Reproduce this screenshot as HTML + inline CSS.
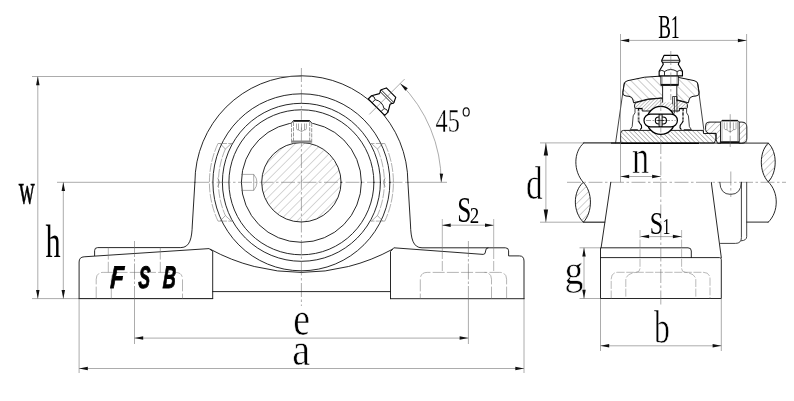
<!DOCTYPE html>
<html><head><meta charset="utf-8"><title>Pillow block bearing drawing</title>
<style>
html,body{margin:0;padding:0;background:#fff;}
body{width:794px;height:401px;overflow:hidden;font-family:"Liberation Serif",serif;}
svg{display:block;will-change:transform;}
</style></head><body>
<svg width="794" height="401" viewBox="0 0 794 401">
<rect width="794" height="401" fill="#fff"/>
<defs>
<pattern id="h45" width="6.2" height="6.2" patternUnits="userSpaceOnUse" patternTransform="rotate(45)"><line x1="0" y1="0" x2="0" y2="6.2" stroke="#777" stroke-width="0.6"/></pattern>
<pattern id="hs1" width="2.5" height="2.5" patternUnits="userSpaceOnUse" patternTransform="rotate(45)"><line x1="0" y1="0" x2="0" y2="2.6" stroke="#333" stroke-width="0.55"/></pattern>
<pattern id="hs2" width="3.2" height="3.2" patternUnits="userSpaceOnUse" patternTransform="rotate(-45)"><line x1="0" y1="0" x2="0" y2="3.2" stroke="#222" stroke-width="0.6"/></pattern>
<pattern id="hs3" width="4.2" height="4.2" patternUnits="userSpaceOnUse" patternTransform="rotate(45)"><line x1="0" y1="0" x2="0" y2="4.2" stroke="#444" stroke-width="0.55"/></pattern>
<pattern id="hs3b" width="5.8" height="5.8" patternUnits="userSpaceOnUse" patternTransform="rotate(-45)"><line x1="0" y1="0" x2="0" y2="5.8" stroke="#444" stroke-width="0.55"/></pattern>
<pattern id="hs4" width="5.2" height="5.2" patternUnits="userSpaceOnUse" patternTransform="rotate(45)"><line x1="0" y1="0" x2="0" y2="5.2" stroke="#555" stroke-width="0.55"/></pattern>
</defs>
<circle cx="301.4" cy="182.3" r="39.7" fill="url(#h45)" stroke="none" />
<line x1="57" y1="182.3" x2="195" y2="182.3" stroke="#666" stroke-width="0.55" fill="none" />
<line x1="195" y1="182.3" x2="408" y2="182.3" stroke="#666" stroke-width="0.55" fill="none" stroke-dasharray="14 2.5 2.5 2.5" />
<line x1="408" y1="182.3" x2="447" y2="182.3" stroke="#666" stroke-width="0.55" fill="none" />
<line x1="301.4" y1="68" x2="301.4" y2="306" stroke="#666" stroke-width="0.55" fill="none" stroke-dasharray="14 2.5 2.5 2.5" />
<circle cx="301.4" cy="182.3" r="88.5" stroke="#151515" stroke-width="0.92" fill="none" stroke-linecap="round" stroke-linejoin="round" />
<circle cx="301.4" cy="182.3" r="79" stroke="#151515" stroke-width="0.92" fill="none" stroke-linecap="round" stroke-linejoin="round" />
<circle cx="301.4" cy="182.3" r="72.5" stroke="#151515" stroke-width="0.92" fill="none" stroke-linecap="round" stroke-linejoin="round" />
<circle cx="301.4" cy="182.3" r="60" stroke="#151515" stroke-width="0.92" fill="none" stroke-linecap="round" stroke-linejoin="round" />
<circle cx="301.4" cy="182.3" r="39.7" stroke="#151515" stroke-width="0.92" fill="none" stroke-linecap="round" stroke-linejoin="round" />
<path d="M 194.89999999999998 182.3 A 106.5 106.5 0 0 1 407.9 182.3" stroke="#151515" stroke-width="0.92" fill="none" stroke-linecap="round" stroke-linejoin="round" />
<path d="M 194.89999999999998 182.3 L 192.3 225 C 191.9 238 190 247.6 180.8 247.6 L 97.6 247.6 Q 94.6 247.6 94.6 250.6 L 94.6 255.6" stroke="#151515" stroke-width="0.92" fill="none" stroke-linecap="round" stroke-linejoin="round" />
<path d="M 407.9 182.3 L 410.5 225 C 410.9 238 412.8 247.8 422 247.8 L 505.4 247.8 Q 508.6 247.8 508.6 250.8 L 508.6 255.9 L 519.4 255.9 Q 524.0 255.9 524.0 261 L 524.0 298.7" stroke="#151515" stroke-width="0.92" fill="none" stroke-linecap="round" stroke-linejoin="round" />
<path d="M 79.1 298.6 L 79.1 262 Q 79.1 257.1 84.1 256.8 L 209 248.6 L 212.7 251.2 L 212.7 298.6" stroke="#151515" stroke-width="0.92" fill="none" stroke-linecap="round" stroke-linejoin="round" />
<line x1="32" y1="298.6" x2="212.7" y2="298.6" stroke="#666" stroke-width="0.55" fill="none" />
<line x1="79.1" y1="298.6" x2="212.7" y2="298.6" stroke="#151515" stroke-width="0.92" fill="none" stroke-linecap="round" stroke-linejoin="round" />
<line x1="390.5" y1="298.7" x2="524.0" y2="298.7" stroke="#151515" stroke-width="0.92" fill="none" stroke-linecap="round" stroke-linejoin="round" />
<path d="M 212.7 291.6 L 390.5 291.6" stroke="#151515" stroke-width="0.92" fill="none" stroke-linecap="round" stroke-linejoin="round" />
<path d="M 390.5 298.7 L 390.5 251.5 L 393.8 247.8 L 483.2 254.4 Q 485.6 254.4 485.6 251 Q 485.6 247.9 488 247.8" stroke="#151515" stroke-width="0.92" fill="none" stroke-linecap="round" stroke-linejoin="round" />
<path d="M 210.4 249.3 A 190 190 0 0 0 392.4 249.3" stroke="#151515" stroke-width="0.92" fill="none" stroke-linecap="round" stroke-linejoin="round" />
<line x1="108.3" y1="247.6" x2="108.3" y2="272.4" stroke="#777" stroke-width="0.55" fill="none" stroke-dasharray="12 2.2" />
<line x1="160.3" y1="247.6" x2="160.3" y2="272.4" stroke="#777" stroke-width="0.55" fill="none" stroke-dasharray="12 2.2" />
<path d="M 96.2 298.6 L 96.2 279.4 Q 96.2 272.4 103.2 272.4 L 175.5 272.4 Q 182.5 272.4 182.5 279.4 L 182.5 298.6" stroke="#777" stroke-width="0.55" fill="none" stroke-dasharray="12 2.2" />
<path d="M 111.3 298.6 L 111.3 279.4 Q 111.3 272.4 118.3 272.4" stroke="#777" stroke-width="0.55" fill="none" stroke-dasharray="12 2.2" />
<path d="M 506.59999999999997 298.6 L 506.59999999999997 279.4 Q 506.59999999999997 272.4 499.59999999999997 272.4 L 427.29999999999995 272.4 Q 420.29999999999995 272.4 420.29999999999995 279.4 L 420.29999999999995 298.6" stroke="#777" stroke-width="0.55" fill="none" stroke-dasharray="12 2.2" />
<path d="M 491.49999999999994 298.6 L 491.49999999999994 279.4 Q 491.49999999999994 272.4 484.49999999999994 272.4" stroke="#777" stroke-width="0.55" fill="none" stroke-dasharray="12 2.2" />
<line x1="134.5" y1="241" x2="134.5" y2="300" stroke="#666" stroke-width="0.55" fill="none" stroke-dasharray="16 2 2.5 2" />
<line x1="134.5" y1="300" x2="134.5" y2="344" stroke="#666" stroke-width="0.55" fill="none" />
<line x1="468.4" y1="241" x2="468.4" y2="300" stroke="#666" stroke-width="0.55" fill="none" stroke-dasharray="16 2 2.5 2" />
<line x1="468.4" y1="300" x2="468.4" y2="344" stroke="#666" stroke-width="0.55" fill="none" />
<g transform="translate(376.49,107.21) rotate(45.00)">
<path d="M -11.65 0 L -11.65 -4.6 L -7.5 -11.7 L -8.2 -13.6 L -9.0 -14.4 L -9.0 -15.6 L -6.65 -20.6 L 6.65 -20.6 L 9 -15.6 L 9 -14.4 L 8.2 -13.6 L 7.5 -11.7 L 11.65 -4.6 L 11.65 0 Z" fill="#fff" stroke="#000" stroke-width="1.15" stroke-linejoin="round"/>
<path d="M -8.2 -13.6 L 8.2 -13.6 M -9 -15.6 L 9 -15.6" stroke="#111" stroke-width="0.9" fill="none"/>
<path d="M -6.3 0 L -6.3 -4.4 M 6.3 0 L 6.3 -4.4 M -11.65 -4.6 Q -9 -6.6 -6.3 -4.4 Q 0 -8.4 6.3 -4.4 Q 9 -6.6 11.65 -4.6" stroke="#111" stroke-width="0.9" fill="none"/>
</g>
<line x1="369.2822509939085" y1="114.41774900609146" x2="404.63759005323595" y2="79.06240994676408" stroke="#666" stroke-width="0.55" fill="none" />
<rect x="290.8" y="119.8" width="21.6" height="5.6" fill="#fff"/>
<path d="M 293.5 120.9 L 309.6 120.9" stroke="#111" stroke-width="1.8" fill="none" />
<path d="M 291.5 123 L 293.5 120.6 M 311.7 123 L 309.6 120.6" stroke="#151515" stroke-width="0.92" fill="none" stroke-linecap="round" stroke-linejoin="round" />
<path d="M 291.5 123 L 291.5 142.9 M 311.7 123 L 311.7 142.9 M 293.5 122 L 293.5 142.9 M 309.7 122 L 309.7 142.9" stroke="#555" stroke-width="0.6" fill="none" stroke-dasharray="4 1.2" />
<path d="M 291.5 141.6 L 311.7 141.6" stroke="#888" stroke-width="2.2" fill="none" />
<path d="M 296.5 123.5 L 296.5 128.5 Q 296.5 130 298.5 130 L 298.5 123.5 M 306.4 123.5 L 306.4 128.5 Q 306.4 130 304.5 130 L 304.5 123.5 M 298.5 130 Q 301.5 133 304.5 130 M 301.5 123.5 L 301.5 131.5" stroke="#666" stroke-width="0.55" fill="none" />
<path d="M 241.2 174.4 L 253.7 174.4 Q 257 178 257 182.3 Q 257 186.6 253.7 190.4 L 241.2 190.4 M 253.7 174.4 L 253.7 190.4" stroke="#666" stroke-width="0.55" fill="none" />
<path d="M 217.98 143.50 A 92 92 0 0 0 217.98 221.10" stroke="#707070" stroke-width="0.55" fill="none" stroke-dasharray="9 1.3" />
<path d="M 225.37 149.00 A 83 83 0 0 0 225.37 215.60" stroke="#707070" stroke-width="0.55" fill="none" stroke-dasharray="9 1.3" />
<path d="M 217.98 143.50 L 232.0 143.50 M 217.98 221.10 L 232.0 221.10" stroke="#707070" stroke-width="0.55" fill="none" stroke-dasharray="9 1.3" />
<path d="M 220.0 143.50 L 225.37 149.00 L 231.4 143.50 M 220.0 221.10 L 225.37 215.60 L 231.4 221.10" stroke="#666" stroke-width="0.55" fill="none" />
<path d="M 217.6 177.8 L 219.6 182.3 L 217.6 186.8" stroke="#666" stroke-width="0.55" fill="none" />
<path d="M 384.82 143.50 A 92 92 0 0 1 384.82 221.10" stroke="#707070" stroke-width="0.55" fill="none" stroke-dasharray="9 1.3" />
<path d="M 377.43 149.00 A 83 83 0 0 1 377.43 215.60" stroke="#707070" stroke-width="0.55" fill="none" stroke-dasharray="9 1.3" />
<path d="M 384.82 143.50 L 370.79999999999995 143.50 M 384.82 221.10 L 370.79999999999995 221.10" stroke="#707070" stroke-width="0.55" fill="none" stroke-dasharray="9 1.3" />
<path d="M 382.79999999999995 143.50 L 377.43 149.00 L 371.4 143.50 M 382.79999999999995 221.10 L 377.43 215.60 L 371.4 221.10" stroke="#666" stroke-width="0.55" fill="none" />
<path d="M 385.19999999999993 177.8 L 383.19999999999993 182.3 L 385.19999999999993 186.8" stroke="#666" stroke-width="0.55" fill="none" />
<text transform="translate(109.92,287.90) skewX(-3.15) scale(0.5414,0.7849)" font-family="Liberation Sans" font-weight="bold" font-style="italic" font-size="40" fill="#000" stroke="#000" stroke-width="1.2">F</text>
<text transform="translate(137.89,287.80) skewX(-3.15) scale(0.4379,0.7768)" font-family="Liberation Sans" font-weight="bold" font-style="italic" font-size="40" fill="#000" stroke="#000" stroke-width="1.2">S</text>
<text transform="translate(162.39,287.90) skewX(-3.15) scale(0.4462,0.7849)" font-family="Liberation Sans" font-weight="bold" font-style="italic" font-size="40" fill="#000" stroke="#000" stroke-width="1.2">B</text>
<line x1="37.8" y1="76.5" x2="37.8" y2="298.6" stroke="#666" stroke-width="0.55" fill="none" />
<polygon points="37.80,76.50 39.55,85.20 36.05,85.20" fill="#111"/>
<polygon points="37.80,298.60 36.05,289.90 39.55,289.90" fill="#111"/>
<line x1="32" y1="76.5" x2="301.4" y2="76.5" stroke="#666" stroke-width="0.55" fill="none" />
<line x1="63.3" y1="182.3" x2="63.3" y2="298.6" stroke="#666" stroke-width="0.55" fill="none" />
<polygon points="63.30,182.30 65.05,191.00 61.55,191.00" fill="#111"/>
<polygon points="63.30,298.60 61.55,289.90 65.05,289.90" fill="#111"/>
<text transform="translate(18.73,203.52) scale(0.5546,1.1040)" font-family="Liberation Serif" font-size="40" fill="#000" stroke="#000" stroke-width="0.5" vector-effect="non-scaling-stroke" >w</text>
<text transform="translate(45.51,257.00) scale(0.7546,1.1854)" font-family="Liberation Serif" font-size="40" fill="#000"  >h</text>
<line x1="134.5" y1="338.1" x2="468.3" y2="338.1" stroke="#666" stroke-width="0.55" fill="none" />
<polygon points="134.50,338.10 143.20,336.35 143.20,339.85" fill="#111"/>
<polygon points="468.30,338.10 459.60,339.85 459.60,336.35" fill="#111"/>
<line x1="79.1" y1="298.6" x2="79.1" y2="373" stroke="#666" stroke-width="0.55" fill="none" />
<line x1="524.0" y1="298.7" x2="524.0" y2="373" stroke="#666" stroke-width="0.55" fill="none" />
<line x1="79.1" y1="368.5" x2="524.0" y2="368.5" stroke="#666" stroke-width="0.55" fill="none" />
<polygon points="79.10,368.50 87.80,366.75 87.80,370.25" fill="#111"/>
<polygon points="524.00,368.50 515.30,370.25 515.30,366.75" fill="#111"/>
<text transform="translate(293.25,335.11) scale(0.9423,1.1981)" font-family="Liberation Serif" font-size="40" fill="#000" stroke="#fff" stroke-width="0.55" vector-effect="non-scaling-stroke" >e</text>
<text transform="translate(292.31,365.31) scale(1.0094,1.1821)" font-family="Liberation Serif" font-size="40" fill="#000" stroke="#fff" stroke-width="0.55" vector-effect="non-scaling-stroke" >a</text>
<line x1="442" y1="225.2" x2="493.7" y2="225.2" stroke="#666" stroke-width="0.55" fill="none" />
<polygon points="442.00,225.20 450.70,223.45 450.70,226.95" fill="#111"/>
<polygon points="493.70,225.20 485.00,226.95 485.00,223.45" fill="#111"/>
<line x1="442.3" y1="219" x2="442.3" y2="272.4" stroke="#777" stroke-width="0.55" fill="none" stroke-dasharray="40 2 10 2.2" />
<line x1="493.7" y1="219" x2="493.7" y2="272.4" stroke="#777" stroke-width="0.55" fill="none" stroke-dasharray="40 2 10 2.2" />
<text transform="translate(457.21,222.36) scale(0.6320,0.8707)" font-family="Liberation Serif" font-size="40" fill="#000"  >S</text>
<text transform="translate(469.77,222.60) scale(0.4740,0.5739)" font-family="Liberation Serif" font-size="40" fill="#000"  >2</text>
<path d="M 400.25 83.45 A 139.8 139.8 0 0 1 441.2 182.3" stroke="#666" stroke-width="0.55" fill="none" />
<polygon points="441.20,182.30 439.68,173.56 443.18,173.65" fill="#111"/>
<polygon points="400.25,83.45 407.77,88.17 405.36,90.70" fill="#111"/>
<text transform="translate(435.57,131.61) scale(0.6081,0.8683)" font-family="Liberation Serif" font-size="40" fill="#000" stroke="#fff" stroke-width="0.3" vector-effect="non-scaling-stroke" >45</text>
<ellipse cx="466.2" cy="111.9" rx="3.0" ry="4.1" stroke="#111" stroke-width="1.2" fill="none"/>
<line x1="540" y1="142.9" x2="620" y2="142.9" stroke="#666" stroke-width="0.55" fill="none" />
<line x1="583.8" y1="142.9" x2="620.5" y2="142.9" stroke="#151515" stroke-width="0.92" fill="none" stroke-linecap="round" stroke-linejoin="round" />
<line x1="700" y1="143.1" x2="768.3" y2="143.1" stroke="#151515" stroke-width="0.92" fill="none" stroke-linecap="round" stroke-linejoin="round" />
<line x1="540" y1="222.2" x2="604.5" y2="222.2" stroke="#666" stroke-width="0.55" fill="none" />
<line x1="583.4" y1="222.2" x2="604.8" y2="222.2" stroke="#151515" stroke-width="0.92" fill="none" stroke-linecap="round" stroke-linejoin="round" />
<line x1="746.7" y1="222.1" x2="768.3" y2="222.1" stroke="#151515" stroke-width="0.92" fill="none" stroke-linecap="round" stroke-linejoin="round" />
<path d="M 583.8 142.9 C 573.2 152 573.2 171 583.2 182.3" stroke="#151515" stroke-width="0.92" fill="none" stroke-linecap="round" stroke-linejoin="round" />
<path d="M 583.2 182.3 C 572.6 192 572.8 212 583.4 222.2 C 592.8 212 592.8 192 583.2 182.3 Z" stroke="#151515" stroke-width="0.95" fill="url(#hs4)" />
<path d="M 768.3 143.1 C 759 152 759 172 768.3 181.9 C 777.5 172 777.5 152 768.3 143.1 Z" stroke="#151515" stroke-width="0.95" fill="url(#hs4)" />
<path d="M 768.3 181.9 C 779 192 779 212 768.3 222.1" stroke="#151515" stroke-width="0.92" fill="none" stroke-linecap="round" stroke-linejoin="round" />
<line x1="567" y1="182.3" x2="786" y2="182.3" stroke="#666" stroke-width="0.55" fill="none" stroke-dasharray="14 2.5 2.5 2.5" />
<line x1="610.8" y1="182.3" x2="601.1" y2="247.8" stroke="#151515" stroke-width="0.92" fill="none" stroke-linecap="round" stroke-linejoin="round" />
<line x1="711.3" y1="182.3" x2="721.3" y2="257.6" stroke="#151515" stroke-width="0.92" fill="none" stroke-linecap="round" stroke-linejoin="round" />
<path d="M 741.4 182.3 L 741.4 237.5 Q 741.4 243.4 735.5 243.4 L 720.5 243.4" stroke="#222" stroke-width="0.85" fill="none" stroke-linecap="round" stroke-linejoin="round" />
<path d="M 746.7 182.3 L 746.7 236.5 Q 746.7 240.5 741.4 240.8" stroke="#222" stroke-width="0.85" fill="none" stroke-linecap="round" stroke-linejoin="round" />
<path d="M 719.8 182.3 Q 720.2 194.4 730.6 194.4 Q 741 194.4 741.4 182.3" stroke="#222" stroke-width="0.85" fill="none" stroke-linecap="round" stroke-linejoin="round" />
<line x1="730.8" y1="171.5" x2="730.8" y2="197" stroke="#666" stroke-width="0.55" fill="none" stroke-dasharray="14 2.5 2.5 2.5" />
<path d="M 600.5 298.5 L 600.5 247.8 L 688 247.8 Q 691.3 247.8 691.3 251 L 691.3 257.6" stroke="#151515" stroke-width="0.92" fill="none" stroke-linecap="round" stroke-linejoin="round" />
<path d="M 600.5 257.6 L 719.6 257.6 Q 721.3 257.6 721.3 259.5 L 721.3 298.5 L 600.5 298.5" stroke="#151515" stroke-width="0.92" fill="none" stroke-linecap="round" stroke-linejoin="round" />
<path d="M 640 230 L 640 268.5 Q 640 272 636 272.4 Q 626 273.5 625.8 280 L 625.8 298.5" stroke="#808080" stroke-width="0.55" fill="none" stroke-dasharray="8 1.6" />
<path d="M 681.6 230 L 681.6 268.5 Q 681.6 272 685.6 272.4 Q 695.6 273.5 695.8 280 L 695.8 298.5" stroke="#808080" stroke-width="0.55" fill="none" stroke-dasharray="8 1.6" />
<path d="M 611.2 298.5 L 611.2 279 Q 611.2 272.3 618 272.3 L 703.2 272.3 Q 710 272.3 710 279 L 710 298.5" stroke="#808080" stroke-width="0.55" fill="none" stroke-dasharray="8 1.6" />
<line x1="624.2" y1="83" x2="615.6" y2="142.9" stroke="#222" stroke-width="0.85" fill="none" stroke-linecap="round" stroke-linejoin="round" />
<line x1="697.6" y1="83" x2="703.8" y2="129.5" stroke="#222" stroke-width="0.85" fill="none" stroke-linecap="round" stroke-linejoin="round" />
<path d="M 624.2 84.2 Q 624.4 81.2 628 80.6 Q 661 71.6 694 80.6 Q 697.6 81.2 697.8 84.2 L 699.2 92.5 Q 699.6 95.6 696 96 L 693 96.3 Q 689.5 96.8 689 100 L 688.4 102.8 Q 661 93.2 633.6 102.8 L 633 100 Q 632.5 96.8 629 96.3 L 626 96 Q 622.4 95.6 622.8 92.5 Z" stroke="#111" stroke-width="1.0" stroke-linejoin="round" fill="url(#hs3b)" />
<path d="M 634.6 104.8 Q 634.6 103 636.4 102.5 Q 661 94.0 685.6 102.5 Q 687.4 103 687.4 104.8 L 687.4 107.4 Q 687.4 108.4 686.2 108.4 L 679.4 108.4 L 679.4 111 L 642.2 111 L 642.2 108.4 L 635.8 108.4 Q 634.6 108.4 634.6 107.4 Z" stroke="#111" stroke-width="0.95" stroke-linejoin="round" fill="url(#hs1)" />
<path d="M 620.6 143 L 620.6 133.4 Q 620.6 130.4 623.6 130.4 L 703.5 130.4 L 703.5 133.5 L 716 133.5 L 716 139 L 714.2 143 Z" stroke="#111" stroke-width="0.95" stroke-linejoin="round" fill="url(#hs2)" />
<line x1="611" y1="143.1" x2="620.5" y2="143.1" stroke="#111" stroke-width="1.1" />
<line x1="620.5" y1="143.2" x2="699" y2="143.2" stroke="#000" stroke-width="1.4" />
<path d="M 635.0 108.4 L 635.0 112.8 L 633.2 115.8 L 632.2 126.6 L 630.2 129.6 L 637.8 129.6" stroke="#222" stroke-width="0.85" fill="none" stroke-linejoin="round" />
<path d="M 642.2 108.6 L 638.4 108.6 L 638.4 110.6" stroke="#000" stroke-width="1.1" fill="none" stroke-linejoin="round" />
<path d="M 638.6 110.4 L 638.6 121.6" stroke="#111" stroke-width="1.8" fill="none" stroke-dasharray="0.7 0.6" />
<path d="M 638.6 121.4 L 639.8 123.2 L 641.4 125.4 L 641.6 127.8 L 640.2 129.6" stroke="#000" stroke-width="1.1" fill="none" stroke-linejoin="round" />
<path d="M 686.5999999999999 108.4 L 686.5999999999999 112.8 L 688.3999999999999 115.8 L 689.3999999999999 126.6 L 691.3999999999999 129.6 L 683.8 129.6" stroke="#222" stroke-width="0.85" fill="none" stroke-linejoin="round" />
<path d="M 679.3999999999999 108.6 L 683.1999999999999 108.6 L 683.1999999999999 110.6" stroke="#000" stroke-width="1.1" fill="none" stroke-linejoin="round" />
<path d="M 682.9999999999999 110.4 L 682.9999999999999 121.6" stroke="#111" stroke-width="1.8" fill="none" stroke-dasharray="0.7 0.6" />
<path d="M 682.9999999999999 121.4 L 681.8 123.2 L 680.1999999999999 125.4 L 679.9999999999999 127.8 L 681.3999999999999 129.6" stroke="#000" stroke-width="1.1" fill="none" stroke-linejoin="round" />
<circle cx="660.8" cy="120.4" r="14.0" stroke="#000" stroke-width="1.35" fill="#fff" />
<rect x="644" y="114.2" width="33.4" height="12.7" rx="6.3" ry="6.3" stroke="#000" stroke-width="1.25" fill="#fff"/>
<line x1="646" y1="120.5" x2="675.6" y2="120.5" stroke="#555" stroke-width="0.6" stroke-dasharray="5 1.5 1.5 1.5" />
<rect x="655.3" y="117" width="11.2" height="7" rx="3.5" ry="3.5" stroke="#000" stroke-width="1.1" fill="none"/>
<rect x="659.1" y="114.6" width="3" height="11.9" stroke="#000" stroke-width="0.95" fill="#fff"/>
<line x1="657.5" y1="120.5" x2="664.5" y2="120.5" stroke="#111" stroke-width="0.8" />
<line x1="660.8" y1="97" x2="660.8" y2="306" stroke="#666" stroke-width="0.55" fill="none" stroke-dasharray="14 2.5 2.5 2.5" />
<rect x="661" y="76.2" width="17.2" height="9.4" fill="#fff" stroke="none"/>
<rect x="662.6" y="85.4" width="14.2" height="17" fill="#fff" stroke="none"/>
<path d="M 660.9 76.2 L 660.9 85.5 L 678.3 85.5 L 678.3 76.2" stroke="#151515" stroke-width="0.92" fill="none" stroke-linecap="round" stroke-linejoin="round" />
<path d="M 662.2 76.2 L 662.2 85.5 M 677 76.2 L 677 85.5" stroke="#666" stroke-width="0.55" fill="none" />
<path d="M 660.9 84.6 L 678.3 84.6" stroke="#111" stroke-width="1.4" fill="none" />
<path d="M 662.6 85.5 L 662.6 102.2 M 676.8 85.5 L 676.8 101" stroke="#151515" stroke-width="0.92" fill="none" stroke-linecap="round" stroke-linejoin="round" />
<path d="M 672.6 104 L 672.6 96.5 L 677 96.5 L 677 112 M 674.4 97.5 L 674.4 113" stroke="#222" stroke-width="0.85" fill="none" stroke-linecap="round" stroke-linejoin="round" />
<g transform="translate(670.80,75.90) rotate(0.00)">
<path d="M -11.65 0 L -11.65 -4.6 L -7.5 -11.7 L -8.2 -13.6 L -9.0 -14.4 L -9.0 -15.6 L -6.65 -20.6 L 6.65 -20.6 L 9 -15.6 L 9 -14.4 L 8.2 -13.6 L 7.5 -11.7 L 11.65 -4.6 L 11.65 0 Z" fill="#fff" stroke="#000" stroke-width="1.15" stroke-linejoin="round"/>
<path d="M -8.2 -13.6 L 8.2 -13.6 M -9 -15.6 L 9 -15.6" stroke="#111" stroke-width="0.9" fill="none"/>
<path d="M -6.3 0 L -6.3 -4.4 M 6.3 0 L 6.3 -4.4 M -11.65 -4.6 Q -9 -6.6 -6.3 -4.4 Q 0 -8.4 6.3 -4.4 Q 9 -6.6 11.65 -4.6" stroke="#111" stroke-width="0.9" fill="none"/>
</g>
<line x1="670.8" y1="51" x2="670.8" y2="100" stroke="#666" stroke-width="0.55" fill="none" stroke-dasharray="14 2.5 2.5 2.5" />
<path d="M 709 122.1 L 741.8 122.1 Q 746.8 122.1 746.8 127 L 746.8 138.4 Q 746.8 143.3 741.8 143.3 L 717.6 143.3 L 716 139.5 L 716 133.3 L 708.8 133.3 Q 705.6 132.6 705.6 129.6 L 705.6 125.6 Q 705.6 122.1 709 122.1 Z" stroke="#111" stroke-width="0.95" stroke-linejoin="round" fill="url(#hs3)" />
<rect x="720.5" y="120.6" width="18.7" height="22.6" fill="#fff" stroke="none"/>
<path d="M 720.5 143 L 720.5 122 L 721.9 120.5 L 737.8 120.5 L 739.2 122 L 739.2 143" stroke="#151515" stroke-width="0.92" fill="none" stroke-linecap="round" stroke-linejoin="round" />
<path d="M 721.9 120.6 L 737.8 120.6" stroke="#111" stroke-width="1.5" />
<path d="M 720.5 142.2 L 739.2 142.2" stroke="#111" stroke-width="1.9" />
<path d="M 722 121.5 L 722 141 M 737.7 121.5 L 737.7 141" stroke="#666" stroke-width="0.55" fill="none" />
<path d="M 724.3 122.4 L 724.3 128.4 Q 724.3 129.8 727 129.8 L 727 122.4 M 736 122.4 L 736 128.4 Q 736 129.8 733.4 129.8 L 733.4 122.4 M 727 129.8 Q 730.2 133.4 733.4 129.8 M 730.2 122.4 L 730.2 132" stroke="#666" stroke-width="0.55" fill="none" />
<line x1="730.2" y1="114.2" x2="730.2" y2="147" stroke="#666" stroke-width="0.55" fill="none" stroke-dasharray="14 2.5 2.5 2.5" />
<line x1="620.5" y1="34" x2="620.5" y2="143" stroke="#666" stroke-width="0.55" fill="none" />
<line x1="746.6" y1="34" x2="746.6" y2="143" stroke="#666" stroke-width="0.55" fill="none" />
<line x1="620.5" y1="40.4" x2="746.6" y2="40.4" stroke="#666" stroke-width="0.55" fill="none" />
<polygon points="620.50,40.40 629.20,38.65 629.20,42.15" fill="#111"/>
<polygon points="746.60,40.40 737.90,42.15 737.90,38.65" fill="#111"/>
<text transform="translate(658.15,38.00) scale(0.4751,0.8286)" font-family="Liberation Serif" font-size="40" fill="#000"  >B</text>
<text transform="translate(670.83,38.10) scale(0.4474,0.8256)" font-family="Liberation Serif" font-size="40" fill="#000"  >1</text>
<line x1="620.5" y1="143" x2="620.5" y2="182.3" stroke="#666" stroke-width="0.55" fill="none" />
<line x1="620.5" y1="176.5" x2="660.8" y2="176.5" stroke="#666" stroke-width="0.55" fill="none" />
<polygon points="620.50,176.50 629.20,174.75 629.20,178.25" fill="#111"/>
<polygon points="660.80,176.50 652.10,178.25 652.10,174.75" fill="#111"/>
<text transform="translate(632.04,172.97) scale(0.8578,1.2017)" font-family="Liberation Serif" font-size="40" fill="#000" stroke="#fff" stroke-width="0.55" vector-effect="non-scaling-stroke" >n</text>
<line x1="545.9" y1="142.9" x2="545.9" y2="222.2" stroke="#666" stroke-width="0.55" fill="none" />
<polygon points="545.90,143.10 548.10,155.50 543.70,155.50" fill="#111"/>
<polygon points="545.90,222.00 543.70,209.60 548.10,209.60" fill="#111"/>
<text transform="translate(525.93,198.62) scale(0.8275,1.1565)" font-family="Liberation Serif" font-size="40" fill="#000" stroke="#fff" stroke-width="0.55" vector-effect="non-scaling-stroke" >d</text>
<line x1="640.4" y1="236.6" x2="681.6" y2="236.6" stroke="#666" stroke-width="0.55" fill="none" />
<polygon points="640.40,236.60 649.10,234.85 649.10,238.35" fill="#111"/>
<polygon points="681.60,236.60 672.90,238.35 672.90,234.85" fill="#111"/>
<text transform="translate(649.69,234.09) scale(0.6027,0.7963)" font-family="Liberation Serif" font-size="40" fill="#000"  >S</text>
<text transform="translate(662.50,234.30) scale(0.3977,0.5605)" font-family="Liberation Serif" font-size="40" fill="#000"  >1</text>
<line x1="579.5" y1="247.8" x2="600.5" y2="247.8" stroke="#666" stroke-width="0.55" fill="none" />
<line x1="579.5" y1="298.5" x2="600.5" y2="298.5" stroke="#666" stroke-width="0.55" fill="none" />
<line x1="584" y1="247.8" x2="584" y2="298.5" stroke="#666" stroke-width="0.55" fill="none" />
<polygon points="584.00,247.80 585.75,256.50 582.25,256.50" fill="#111"/>
<polygon points="584.00,298.50 582.25,289.80 585.75,289.80" fill="#111"/>
<text transform="translate(564.50,284.37) scale(0.9447,1.0545)" font-family="Liberation Serif" font-size="40" fill="#000" stroke="#fff" stroke-width="0.55" vector-effect="non-scaling-stroke" >g</text>
<line x1="600.5" y1="298.5" x2="600.5" y2="351" stroke="#666" stroke-width="0.55" fill="none" />
<line x1="721.3" y1="298.5" x2="721.3" y2="351" stroke="#666" stroke-width="0.55" fill="none" />
<line x1="600.5" y1="345.8" x2="721.3" y2="345.8" stroke="#666" stroke-width="0.55" fill="none" />
<polygon points="600.50,345.80 609.20,344.05 609.20,347.55" fill="#111"/>
<polygon points="721.30,345.80 712.60,347.55 712.60,344.05" fill="#111"/>
<text transform="translate(654.02,343.21) scale(0.7929,1.1850)" font-family="Liberation Serif" font-size="40" fill="#000" stroke="#fff" stroke-width="0.55" vector-effect="non-scaling-stroke" >b</text>
</svg>
</body></html>
